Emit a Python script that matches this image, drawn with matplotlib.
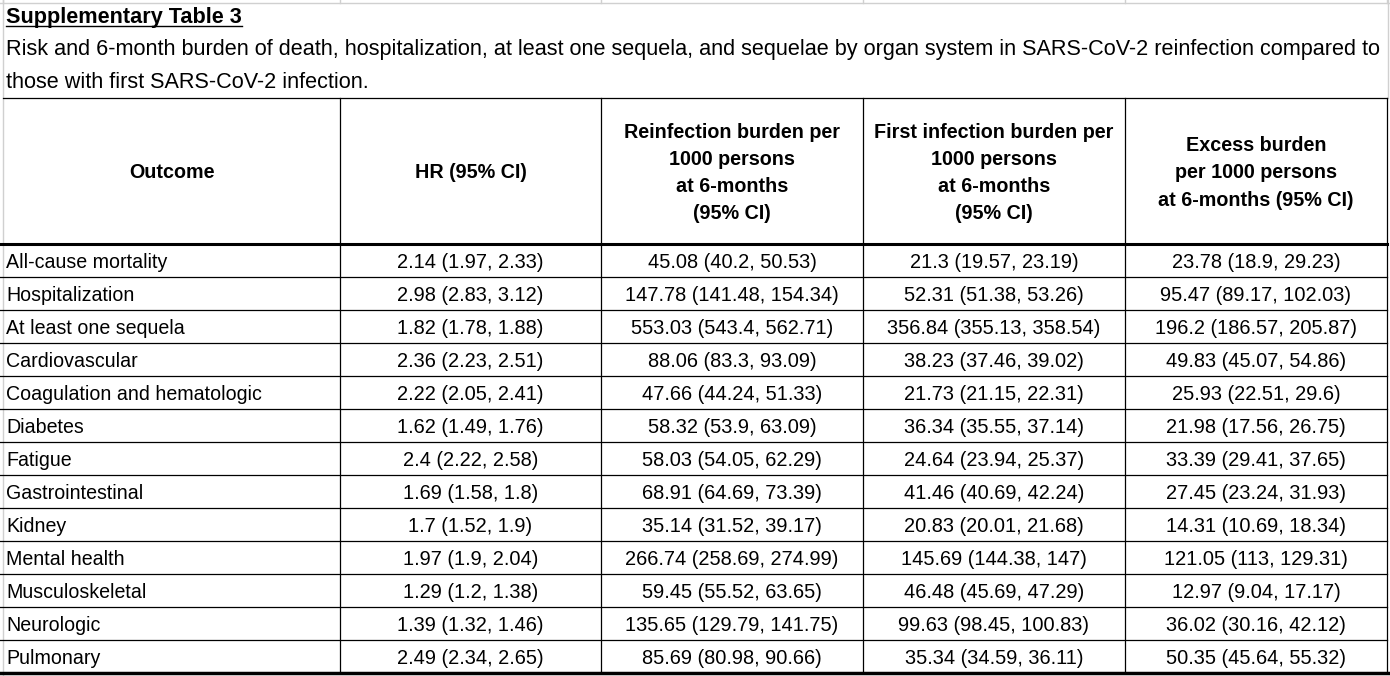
import matplotlib
matplotlib.use('Agg')
import matplotlib.pyplot as plt

plt.rcParams['font.family'] = ['Liberation Sans', 'DejaVu Sans']

# ===表格数据
title = 'Supplementary Table 3'
caption = ['Risk and 6-month burden of death, hospitalization, at least one sequela, and sequelae by organ system in SARS-CoV-2 reinfection compared to',
           'those with first SARS-CoV-2 infection.']
headers = ['Outcome',
           'HR (95% CI)',
           'Reinfection burden per\n1000 persons\nat 6-months\n(95% CI)',
           'First infection burden per\n1000 persons\nat 6-months\n(95% CI)',
           'Excess burden\nper 1000 persons\nat 6-months (95% CI)']
outcomes = ['All-cause mortality', 'Hospitalization', 'At least one sequela', 'Cardiovascular',
            'Coagulation and hematologic', 'Diabetes', 'Fatigue', 'Gastrointestinal', 'Kidney',
            'Mental health', 'Musculoskeletal', 'Neurologic', 'Pulmonary']
hr = ['2.14 (1.97, 2.33)', '2.98 (2.83, 3.12)', '1.82 (1.78, 1.88)', '2.36 (2.23, 2.51)',
      '2.22 (2.05, 2.41)', '1.62 (1.49, 1.76)', '2.4 (2.22, 2.58)', '1.69 (1.58, 1.8)',
      '1.7 (1.52, 1.9)', '1.97 (1.9, 2.04)', '1.29 (1.2, 1.38)', '1.39 (1.32, 1.46)',
      '2.49 (2.34, 2.65)']
reinf = ['45.08 (40.2, 50.53)', '147.78 (141.48, 154.34)', '553.03 (543.4, 562.71)',
         '88.06 (83.3, 93.09)', '47.66 (44.24, 51.33)', '58.32 (53.9, 63.09)',
         '58.03 (54.05, 62.29)', '68.91 (64.69, 73.39)', '35.14 (31.52, 39.17)',
         '266.74 (258.69, 274.99)', '59.45 (55.52, 63.65)', '135.65 (129.79, 141.75)',
         '85.69 (80.98, 90.66)']
first = ['21.3 (19.57, 23.19)', '52.31 (51.38, 53.26)', '356.84 (355.13, 358.54)',
         '38.23 (37.46, 39.02)', '21.73 (21.15, 22.31)', '36.34 (35.55, 37.14)',
         '24.64 (23.94, 25.37)', '41.46 (40.69, 42.24)', '20.83 (20.01, 21.68)',
         '145.69 (144.38, 147)', '46.48 (45.69, 47.29)', '99.63 (98.45, 100.83)',
         '35.34 (34.59, 36.11)']
excess = ['23.78 (18.9, 29.23)', '95.47 (89.17, 102.03)', '196.2 (186.57, 205.87)',
          '49.83 (45.07, 54.86)', '25.93 (22.51, 29.6)', '21.98 (17.56, 26.75)',
          '33.39 (29.41, 37.65)', '27.45 (23.24, 31.93)', '14.31 (10.69, 18.34)',
          '121.05 (113, 129.31)', '12.97 (9.04, 17.17)', '36.02 (30.16, 42.12)',
          '50.35 (45.64, 55.32)']

# ===版面 (像素坐标)
W, H = 1390, 676
col_x = [3, 340, 601, 863, 1125, 1387]
head_top, head_bot = 98, 244
row_h = 33
fs_cap = 15.55  # 标题/说明
fs_head = 14.2  # 表头
fs_lab = 14.1   # 结局名称
fs_num = 14.4   # 数值
grid = '#d0d0d0'

fig = plt.figure(figsize=(W / 100, H / 100), dpi=100)
ax = fig.add_axes([0, 0, 1, 1])
ax.set_xlim(0, W)
ax.set_ylim(H, 0)
ax.axis('off')

# 背景表格网格线
ax.plot([0, W], [3, 3], color=grid, lw=1)
for x in col_x:
    ax.plot([x, x], [0, 3], color=grid, lw=1)
ax.plot([3, 3], [0, H], color=grid, lw=1)
ax.plot([1388, 1388], [0, head_top], color=grid, lw=1)

# 标题
t = ax.text(6, 22.5, title, fontsize=fs_cap, fontweight='bold', ha='left', va='baseline')
for i, line in enumerate(caption):
    ax.text(6, 55.5 + 32 * i, line, fontsize=fs_cap, ha='left', va='baseline')

# 表头
n = len(outcomes)
bottom = head_bot + n * row_h
ax.plot([col_x[0], col_x[-1]], [head_top, head_top], color='black', lw=0.9)
for x in col_x[1:]:
    ax.plot([x, x], [head_top, bottom], color='black', lw=0.9)
for j, h in enumerate(headers):
    cx = (col_x[j] + col_x[j + 1]) / 2
    ax.text(cx, (head_top + head_bot) / 2 + 2, h, fontsize=fs_head, fontweight='bold',
            ha='center', va='center', multialignment='center', linespacing=1.54)
ax.plot([0, col_x[-1]], [head_bot, head_bot], color='black', lw=2.2)

# 数据行
cols = [outcomes, hr, reinf, first, excess]
for i in range(n):
    yb = head_bot + row_h * i + 24.3
    ax.text(col_x[0] + 3, yb, outcomes[i], fontsize=fs_lab, ha='left', va='baseline')
    for j in range(1, 5):
        cx = (col_x[j] + col_x[j + 1]) / 2
        ax.text(cx, yb, cols[j][i], fontsize=fs_num, ha='center', va='baseline')
    if i < n - 1:
        yl = head_bot + row_h * (i + 1)
        ax.plot([0, col_x[-1]], [yl, yl], color='black', lw=0.9)
ax.plot([0, W], [bottom, bottom], color='black', lw=2.5)

# 标题下划线
fig.canvas.draw()
bb = t.get_window_extent().transformed(ax.transData.inverted())
ax.plot([bb.x0, bb.x1], [25.5, 25.5], color='black', lw=1)

fig.savefig('out.png', dpi=100)
